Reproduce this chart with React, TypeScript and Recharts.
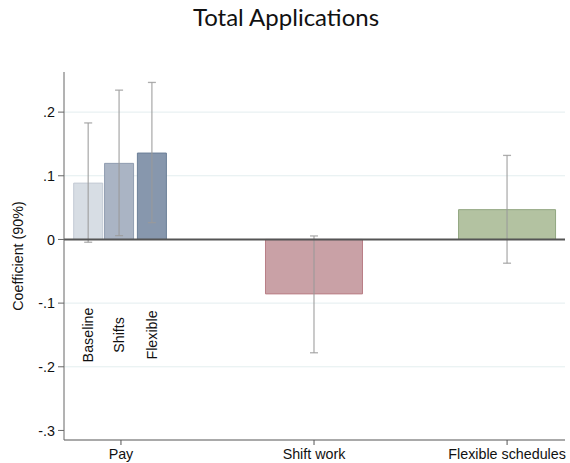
import {
  ComposedChart,
  Bar,
  Cell,
  ErrorBar,
  Scatter,
  XAxis,
  YAxis,
  CartesianGrid,
  ReferenceLine,
} from 'recharts'

// Coefficients with 90% confidence intervals
const payLabels = ['Baseline', 'Shifts', 'Flexible']
const payCoef = [0.0885, 0.1195, 0.1357]
const payLow = [-0.0044, 0.006, 0.0264]
const payHigh = [0.183, 0.2345, 0.2466]

const otherCoef = [-0.0855, 0.0468]
const otherLow = [-0.178, -0.0373]
const otherHigh = [0.0055, 0.132]

const categories = ['Pay', 'Shift work', 'Flexible schedules']
const yTicks = [-0.3, -0.2, -0.1, 0, 0.1, 0.2]
const gridValues = [-0.2, -0.1, 0.1, 0.2]

// layout: offsets of the three pay bars around the Pay tick, and label height
const payOffsets = [-0.17, -0.01, 0.16]
const labelY = -0.15

const payFill = ['#d7dde4', '#aab4c4', '#8797ad']
const payStroke = ['#c3cad4', '#909db1', '#6b7f98']
const otherFill = ['#c9a1a6', '#b3c2a1']
const otherStroke = ['#b97e86', '#91a681']

const rows = [
  ...payCoef.map((v, i) => ({
    x: 1 + payOffsets[i],
    narrow: v,
    narrowErr: [v - payLow[i], payHigh[i] - v],
    name: payLabels[i],
    labelY,
  })),
  ...otherCoef.map((v, i) => ({
    x: 2 + i,
    xw: 2 + i,
    wide: v,
    wideErr: [v - otherLow[i], otherHigh[i] - v],
  })),
]

const fmtY = (v: number) => (v === 0 ? '0' : v.toFixed(1).replace('0.', '.'))

const font = '"Liberation Sans", Arial, sans-serif'
const fs = 14.3

const RotatedLabel = (props: any) => {
  const { cx, cy, payload } = props
  if (!payload || !payload.name) return null
  return (
    <text
      x={cx}
      y={cy}
      transform={`rotate(-90, ${cx}, ${cy})`}
      textAnchor="middle"
      dominantBaseline="central"
      fontSize={fs}
      fontFamily={font}
      fill="#111"
    >
      {payload.name}
    </text>
  )
}

export default function App() {
  return (
    <div style={{ position: 'absolute', left: 0, top: 0, width: 570, height: 463, background: '#fff' }}>
      <div
        style={{
          position: 'absolute',
          top: 2,
          left: 0,
          width: 572,
          textAlign: 'center',
          fontFamily: 'Lato, sans-serif',
          fontSize: 24,
          color: '#111',
        }}
      >
        Total Applications
      </div>
      <ComposedChart
        width={570}
        height={463}
        data={rows}
        margin={{ top: 72, right: 5, bottom: 0, left: 0 }}
      >
        <CartesianGrid
          xAxisId="cat"
          vertical={false}
          horizontalValues={gridValues}
          stroke="#e3eeef"
          strokeWidth={1}
        />
        <XAxis
          xAxisId="cat"
          dataKey="x"
          type="number"
          domain={[0.705, 3.3]}
          ticks={[1, 2, 3]}
          tickFormatter={(v: number) => categories[v - 1]}
          height={23}
          stroke="#555"
          tickSize={5}
          tickMargin={4}
          tick={{ fontSize: fs, fontFamily: font, fill: '#111' }}
        />
        <XAxis xAxisId="wide" dataKey="xw" type="number" domain={[0.705, 3.3]} ticks={[1, 2, 3]} hide />
        <YAxis
          type="number"
          domain={[-0.315, 0.263]}
          allowDataOverflow
          ticks={yTicks}
          tickFormatter={fmtY}
          width={64}
          stroke="#666"
          tickSize={6}
          tickMargin={3}
          tick={{ fontSize: fs, fontFamily: font, fill: '#111' }}
          label={{
            content: ({ viewBox }: any) => {
              const cy = viewBox.y + viewBox.height / 2
              return (
                <text
                  x={18}
                  y={cy}
                  transform={`rotate(-90, 18, ${cy})`}
                  textAnchor="middle"
                  dominantBaseline="central"
                  fontSize={fs}
                  fontFamily={font}
                  fill="#111"
                >
                  Coefficient (90%)
                </text>
              )
            },
          }}
        />
        <Bar xAxisId="cat" dataKey="narrow" barSize={29} isAnimationActive={false}>
          {rows.map((r, i) => (
            <Cell key={i} fill={payFill[i] ?? '#fff'} stroke={payStroke[i] ?? '#fff'} strokeWidth={1} />
          ))}
          <ErrorBar dataKey="narrowErr" direction="y" width={4} stroke="#9a9a9a" strokeOpacity={0.8} strokeWidth={1.3} />
        </Bar>
        <Bar xAxisId="wide" dataKey="wide" barSize={97} isAnimationActive={false}>
          {rows.map((r, i) => (
            <Cell
              key={i}
              fill={otherFill[i - payCoef.length] ?? '#fff'}
              stroke={otherStroke[i - payCoef.length] ?? '#fff'}
              strokeWidth={1}
            />
          ))}
          <ErrorBar dataKey="wideErr" direction="y" width={4} stroke="#9a9a9a" strokeOpacity={0.8} strokeWidth={1.3} />
        </Bar>
        <ReferenceLine y={0} xAxisId="cat" stroke="#555" strokeWidth={2} />
        <Scatter xAxisId="cat" dataKey="labelY" shape={RotatedLabel} isAnimationActive={false} />
      </ComposedChart>
    </div>
  )
}
